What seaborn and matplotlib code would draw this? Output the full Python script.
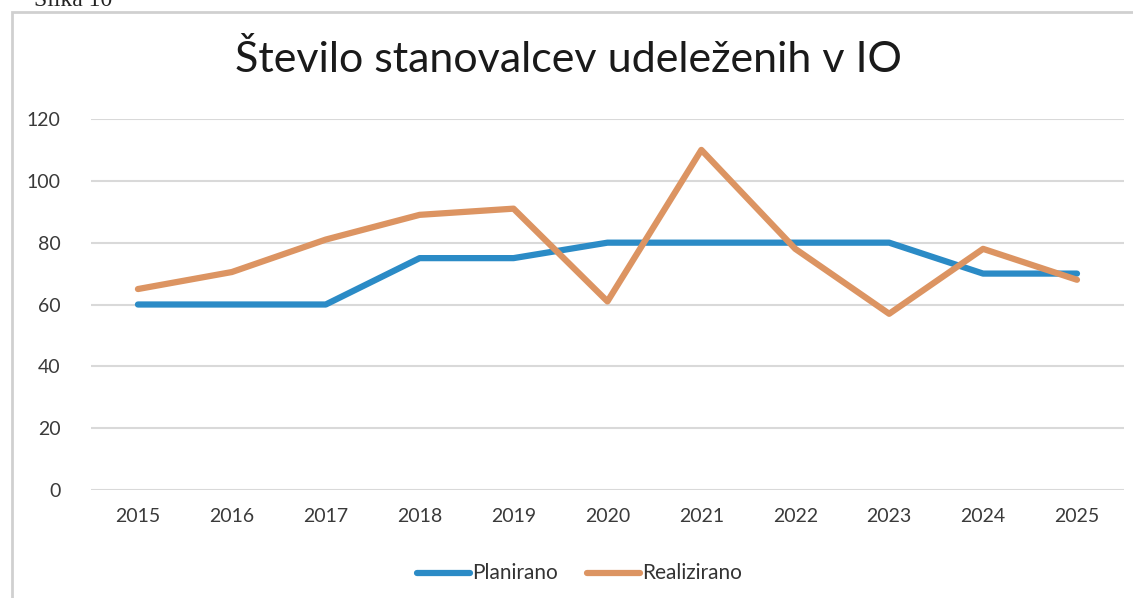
import matplotlib
matplotlib.use('Agg')
import matplotlib.pyplot as plt
import seaborn as sns
import pandas as pd
from matplotlib.patches import Rectangle

years = [2015, 2016, 2017, 2018, 2019, 2020, 2021, 2022, 2023, 2024, 2025]
planirano = [60, 60, 60, 75, 75, 80, 80, 80, 80, 70, 70]
realizirano = [65, 70.5, 81, 89, 91, 61, 110, 78, 57, 78, 68]
y_ticks = [0, 20, 40, 60, 80, 100, 120]

df = pd.DataFrame({
    'leto': [str(y) for y in years] * 2,
    'vrednost': planirano + realizirano,
    'serija': ['Planirano'] * len(years) + ['Realizirano'] * len(years),
})

sns.set_theme(style='white')
plt.rcParams['font.family'] = ['Lato', 'DejaVu Sans']

fig = plt.figure(figsize=(11.33, 5.98), dpi=100)
ax = fig.add_axes([0.0803, 0.1806, 0.9117, 0.6204])

palette = {'Planirano': '#2b8bc6', 'Realizirano': '#dc9462'}
sns.lineplot(data=df, x='leto', y='vrednost', hue='serija', palette=palette,
             linewidth=4.5, ax=ax, sort=False, legend=False)

ax.set_ylim(0, 120)
ax.set_xlim(-0.5, len(years) - 0.5)
ax.set_yticks(y_ticks)
ax.yaxis.grid(True, color='#d9d9d9', linewidth=1.5)
ax.set_axisbelow(True)
for s in ax.spines.values():
    s.set_visible(False)
ax.tick_params(axis='both', length=0, labelsize=14, colors='#3a3a3a', pad=13)
ax.tick_params(axis='y', pad=22)
ax.set_xlabel('')
ax.set_ylabel('')

fig.text(0.502, 0.9, 'Število stanovalcev udeleženih v IO', ha='center',
         va='center', fontsize=31, color='#1a1a1a')

# legend
for name, x0 in [('Planirano', 0.368), ('Realizirano', 0.518)]:
    fig.add_artist(plt.Line2D([x0, x0 + 0.047], [0.042, 0.042], color=palette[name],
                              linewidth=4.5, solid_capstyle='round'))
    fig.text(x0 + 0.049, 0.042, name, ha='left', va='center', fontsize=15,
             color='#333333')

# chart frame and caption
fig.add_artist(Rectangle((12 / 1133, -0.1), 1.2, 1 - 12 / 598 + 0.1,
                         transform=fig.transFigure, fill=False,
                         edgecolor='#d0d0d0', linewidth=2))
fig.text(0.03, 1.0, 'Slika 10', ha='left', va='center', fontsize=17,
         family=['Liberation Serif', 'DejaVu Serif'], color='#222222')

fig.savefig('out.png', dpi=100)
